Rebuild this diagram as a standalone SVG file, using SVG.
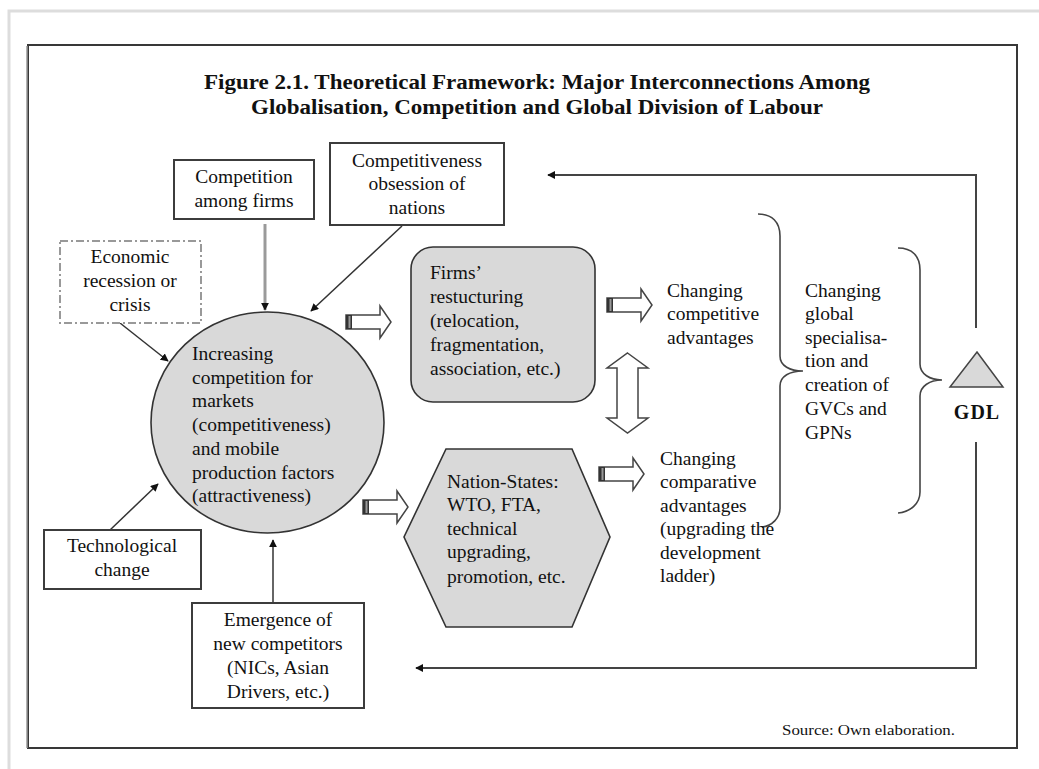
<svg xmlns="http://www.w3.org/2000/svg" width="1039" height="769" viewBox="0 0 1039 769">
  <style>
    .t { font-family: "Liberation Serif", "Times New Roman", serif; font-size: 19.5px; fill: #111; }
    .c { text-anchor: middle; }
    .ttl { font-family: "Liberation Serif", "Times New Roman", serif; font-size: 20px; font-weight: bold; fill: #111; text-anchor: middle; }
    .box { fill: #fff; stroke: #3c3c3c; stroke-width: 2; }
    .shade { fill: #d9d9d9; stroke: #333; stroke-width: 1.6; }
    .link { stroke: #333; stroke-width: 1.5; fill: none; }
    .brace { stroke: #444; stroke-width: 1.6; fill: none; }
    .block { fill: #fff; stroke: #444; stroke-width: 1.5; }
  </style>
  <defs>
    <marker id="dot" viewBox="0 0 10 10" refX="9" refY="5" markerUnits="userSpaceOnUse" markerWidth="8" markerHeight="8" orient="auto-start-reverse">
      <path d="M0,0 L10,5 L0,10 Z" fill="#111"/>
    </marker>
    <!-- hollow block arrow pointing right, origin at the tail centre -->
    <g id="blockArrow">
      <path class="block" d="M0,-7 H34 V-16 L45,0 L34,16 V7 H0 Z"/>
      <rect x="0" y="-7" width="6" height="14" fill="#333"/>
      <rect x="2.5" y="-6" width="2" height="12" fill="#999"/>
    </g>
  </defs>

  <!-- page edge -->
  <path d="M9,769 V11 H1039" fill="none" stroke="#ddd" stroke-width="3"/>

  <!-- figure frame -->
  <rect x="28" y="45" width="989" height="703" fill="#fff" stroke="#383838" stroke-width="2"/>
  <line x1="27" y1="46" x2="27" y2="748" stroke="#999" stroke-width="1.5"/>

  <!-- title -->
  <text class="ttl" x="537" y="89" textLength="666" lengthAdjust="spacingAndGlyphs">Figure 2.1. Theoretical Framework: Major Interconnections Among</text>
  <text class="ttl" x="537" y="114" textLength="572" lengthAdjust="spacingAndGlyphs">Globalisation, Competition and  Global Division of Labour</text>

  <!-- connectors -->
  <g id="connectors">
    <line x1="265" y1="224" x2="265" y2="310" stroke="#9a9a9a" stroke-width="3" marker-end="url(#dot)"/>
    <line class="link" x1="402" y1="226" x2="311" y2="311" marker-end="url(#dot)"/>
    <line class="link" x1="120" y1="323" x2="168" y2="361" marker-end="url(#dot)"/>
    <line class="link" x1="110" y1="530" x2="158" y2="484" marker-end="url(#dot)"/>
    <line class="link" x1="273" y1="603" x2="273" y2="540" marker-end="url(#dot)"/>

    <use href="#blockArrow" x="346" y="322"/>
    <use href="#blockArrow" x="607" y="305"/>
    <use href="#blockArrow" x="363" y="507"/>
    <use href="#blockArrow" x="599" y="474"/>

    <!-- two-way arrow between firms and nation-states -->
    <path class="block" d="M627.5,353 L648,368 H638 V418 H648 L627.5,433 L607,418 H617 V368 H607 Z"/>

    <!-- braces -->
    <path class="brace" d="M758,214 C772,214 780,222 780,236 V356 C780,366 790,371 803,371 C790,371 780,376 780,386 V508 C780,518 772,526 762,527"/>
    <path class="brace" d="M898,248 C912,248 920,256 920,270 V364 C920,374 930,380 942,380 C930,380 920,386 920,396 V492 C920,504 910,512 898,513"/>

    <!-- feedback loop from GDL -->
    <path d="M976,328 V175 H548" fill="none" stroke="#444" stroke-width="2" marker-end="url(#dot)"/>
    <path d="M976,442 V668 H416" fill="none" stroke="#444" stroke-width="2" marker-end="url(#dot)"/>
  </g>

  <g id="competition-firms">
    <rect class="box" x="174" y="160" width="140" height="59" stroke="#555"/>
    <text class="t c" x="244" y="183">Competition</text>
    <text class="t c" x="244" y="207">among firms</text>
  </g>

  <g id="competitiveness-nations">
    <rect class="box" x="330" y="143" width="174" height="82" stroke="#2a2a2a" stroke-width="3"/>
    <text class="t c" x="417" y="167">Competitiveness</text>
    <text class="t c" x="417" y="190">obsession of</text>
    <text class="t c" x="417" y="214">nations</text>
  </g>

  <g id="economic-crisis">
    <rect x="60" y="241" width="141" height="82" fill="#fff" stroke="#999" stroke-width="2" stroke-dasharray="8,3,2,3"/>
    <text class="t c" x="130" y="263">Economic</text>
    <text class="t c" x="130" y="287">recession or</text>
    <text class="t c" x="130" y="311">crisis</text>
  </g>

  <g id="increasing-competition">
    <ellipse class="shade" cx="267.5" cy="422.5" rx="116.5" ry="110.5"/>
    <text class="t" x="192" y="360">Increasing</text>
    <text class="t" x="192" y="384">competition  for</text>
    <text class="t" x="192" y="407">markets</text>
    <text class="t" x="192" y="431">(competitiveness)</text>
    <text class="t" x="192" y="455">and mobile</text>
    <text class="t" x="192" y="479">production  factors</text>
    <text class="t" x="192" y="502">(attractiveness)</text>
  </g>

  <g id="technological-change">
    <rect class="box" x="44" y="530" width="157" height="59"/>
    <text class="t c" x="122" y="552">Technological</text>
    <text class="t c" x="122" y="576">change</text>
  </g>

  <g id="new-competitors">
    <rect class="box" x="192" y="603" width="172" height="105"/>
    <text class="t c" x="278" y="626">Emergence of</text>
    <text class="t c" x="278" y="650">new competitors</text>
    <text class="t c" x="278" y="674">(NICs, Asian</text>
    <text class="t c" x="278" y="698">Drivers, etc.)</text>
  </g>

  <g id="firms-restructuring">
    <rect class="shade" x="411" y="247" width="184" height="155" rx="22" ry="22"/>
    <text class="t" x="430" y="279">Firms’</text>
    <text class="t" x="430" y="303">restucturing</text>
    <text class="t" x="430" y="327">(relocation,</text>
    <text class="t" x="430" y="351">fragmentation,</text>
    <text class="t" x="430" y="375">association,  etc.)</text>
  </g>

  <g id="nation-states">
    <polygon class="shade" points="446,449 572,449 610,537 572,627 446,627 404,537"/>
    <text class="t" x="447" y="488">Nation-States:</text>
    <text class="t" x="447" y="511">WTO, FTA,</text>
    <text class="t" x="447" y="535">technical</text>
    <text class="t" x="447" y="558">upgrading,</text>
    <text class="t" x="447" y="583">promotion, etc.</text>
  </g>

  <g id="competitive-advantages">
    <text class="t" x="667" y="297">Changing</text>
    <text class="t" x="667" y="320">competitive</text>
    <text class="t" x="667" y="344">advantages</text>
  </g>

  <g id="comparative-advantages">
    <text class="t" x="660" y="465">Changing</text>
    <text class="t" x="660" y="488">comparative</text>
    <text class="t" x="660" y="512">advantages</text>
    <text class="t" x="660" y="535">(upgrading the</text>
    <text class="t" x="660" y="559">development</text>
    <text class="t" x="660" y="582">ladder)</text>
  </g>

  <g id="global-specialisation">
    <text class="t" x="805" y="297">Changing</text>
    <text class="t" x="805" y="320">global</text>
    <text class="t" x="805" y="344">specialisa-</text>
    <text class="t" x="805" y="367">tion and</text>
    <text class="t" x="805" y="391">creation of</text>
    <text class="t" x="805" y="415">GVCs and</text>
    <text class="t" x="805" y="439">GPNs</text>
  </g>

  <g id="gdl">
    <polygon points="977,352 1003,387 950,387" fill="#d9d9d9" stroke="#444" stroke-width="1.5"/>
    <text x="977" y="419" text-anchor="middle" font-family="Liberation Serif, Times New Roman, serif" font-size="20" font-weight="bold" letter-spacing="1" fill="#111">GDL</text>
  </g>

  <text x="782" y="735" font-family="Liberation Serif, Times New Roman, serif" font-size="15" fill="#111" textLength="173" lengthAdjust="spacingAndGlyphs">Source: Own elaboration.</text>
</svg>
